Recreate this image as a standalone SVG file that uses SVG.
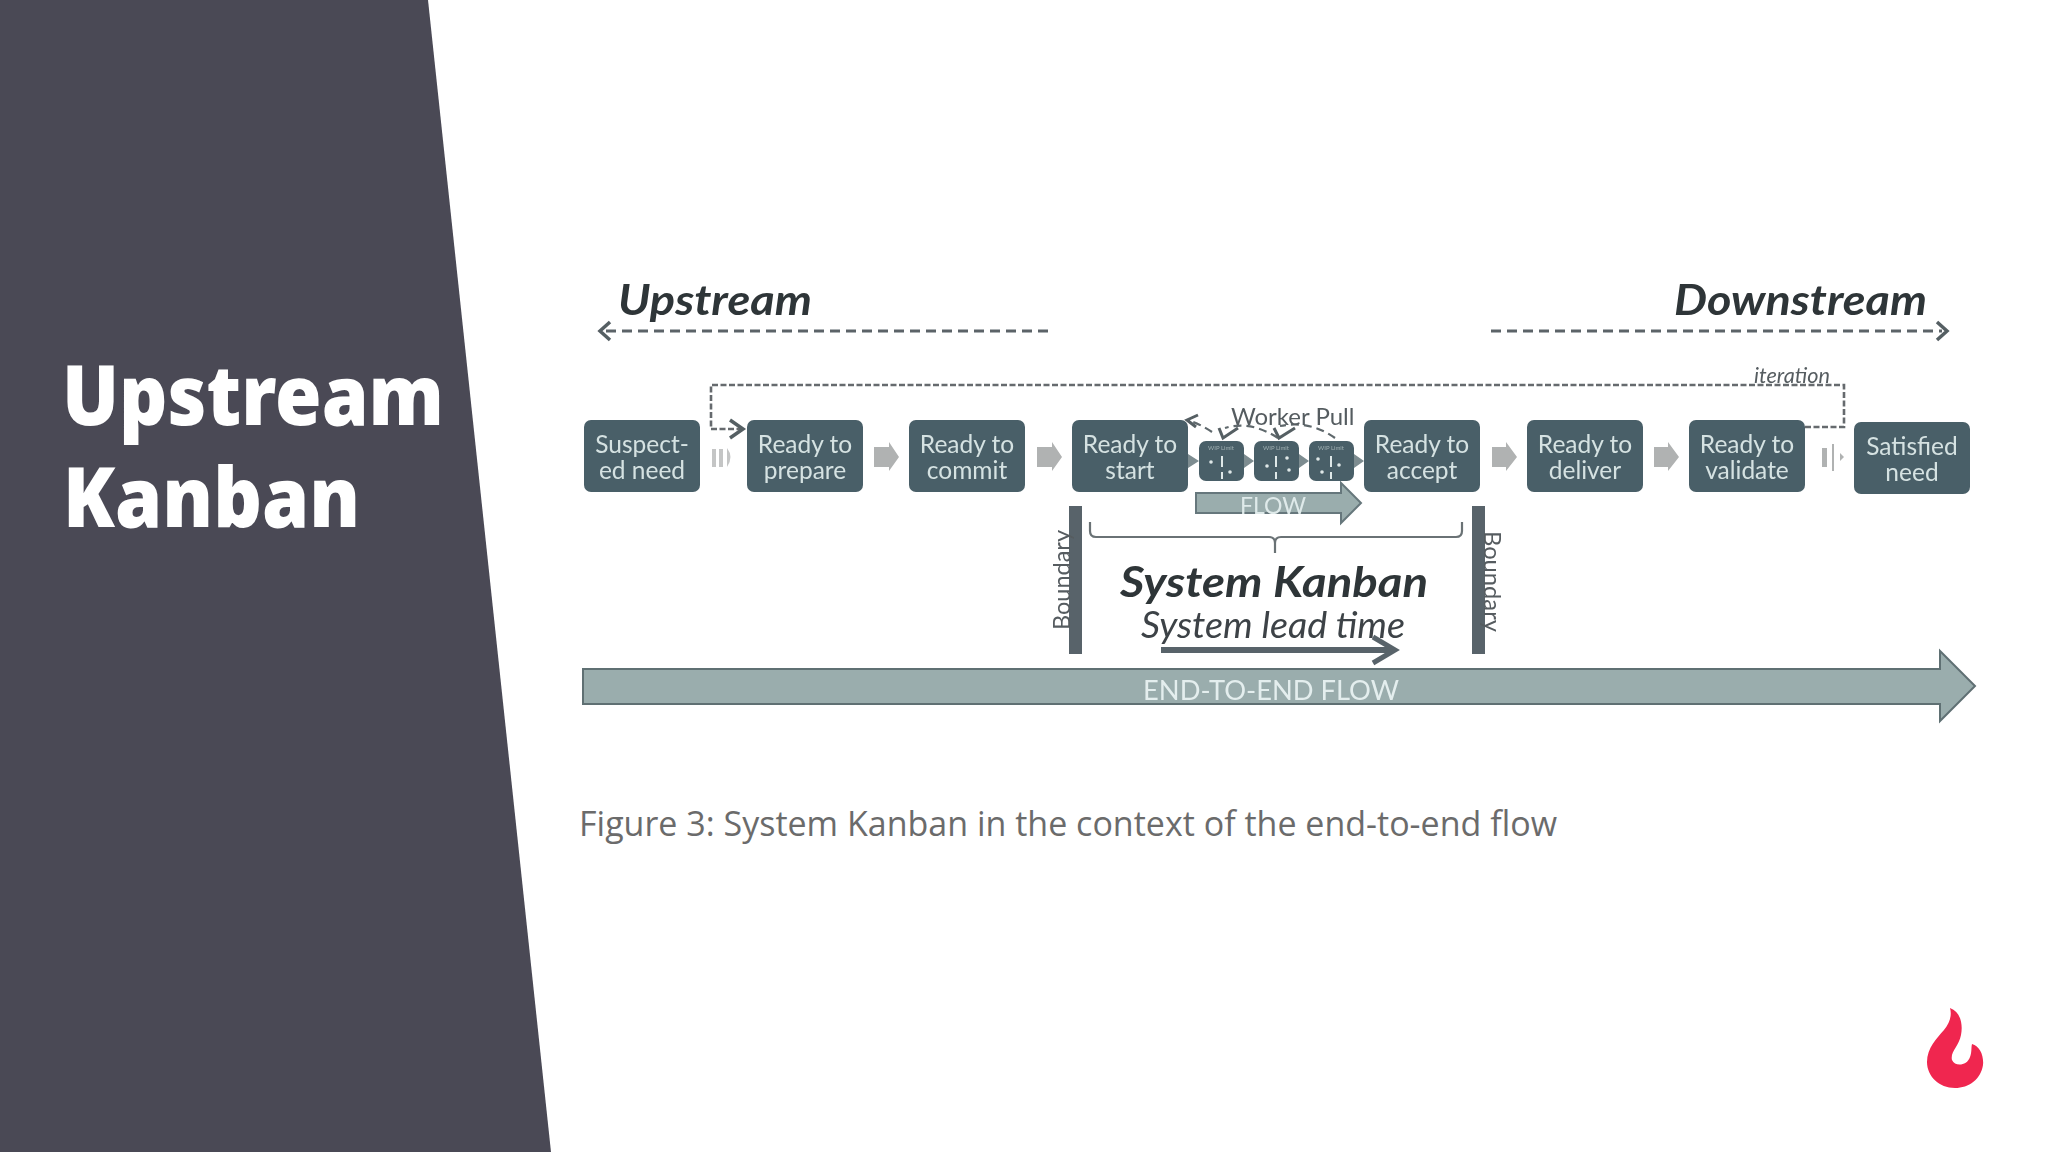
<svg xmlns="http://www.w3.org/2000/svg" width="2048" height="1152" viewBox="0 0 2048 1152">
<style>
.box{fill:#4a5f68}
.bt{font-family:Lato,"Open Sans",sans-serif;font-size:24.5px;fill:#d5e2e2;text-anchor:middle}
.head{font-family:Lato,sans-serif;font-weight:700;font-style:italic;fill:#2f3537}
.dash{fill:none;stroke:#5b6468;stroke-width:3;stroke-dasharray:10 6}
.dash2{fill:none;stroke:#666b6e;stroke-width:2.6;stroke-dasharray:6 2.5}
.chev{fill:none;stroke:#555f63;stroke-width:3.5}
.grey{fill:#b0b2b2}
.wip{fill:#4a5f68}
.wt{font-family:Lato,sans-serif;font-size:6px;fill:#9fb0b3;text-anchor:middle}
.dot{fill:#dfe8e8}
.tri{fill:#7d8c90}
.bar{fill:#59646a}
.bnd{font-family:Lato,sans-serif;font-size:24px;fill:#565c60}
</style>
<defs><filter id="soft" x="-5%" y="-5%" width="110%" height="110%"><feGaussianBlur stdDeviation="0.55"/></filter></defs>
<rect width="2048" height="1152" fill="#ffffff"/>
<polygon id="panel" points="0,0 428,0 551,1152 0,1152" fill="#4a4955"/>
<g id="title" font-family="'Noto Sans',sans-serif" font-weight="900" font-size="84" fill="#ffffff">
<text x="62" y="425" textLength="382" lengthAdjust="spacingAndGlyphs">Upstream</text>
<text x="63" y="527" textLength="297" lengthAdjust="spacingAndGlyphs">Kanban</text>
</g>
<g filter="url(#soft)">
<g id="connectors">
<path class="dash" d="M1048 331H604"/><path class="chev" d="M610 322L600 331L610 340" stroke-width="4.5"/>
<path class="dash" d="M1491 331H1942"/><path class="chev" d="M1937 322L1947 331L1937 340"/>
<path class="dash2" d="M1805 427H1844V385H711V429H740"/><path class="chev" d="M730 420L743 429L730 438"/>
<path fill="none" stroke="#5f686c" stroke-width="2.2" stroke-dasharray="8 5" d="M1335 438Q1310 420 1280 426M1278 438Q1250 420 1225 428M1212 432Q1200 424 1190 421"/>
<path fill="none" stroke="#555f63" stroke-width="3" d="M1198 415L1187 420L1196 427M1219 428L1223 438L1238 428M1274 428L1279 438L1295 428"/>
<g id="block-arrows">
<path class="grey" d="M874 447H889V442L899 457L889 471V467H874Z"/>
<path class="grey" d="M1037 447H1052V442L1062 457L1052 471V467H1037Z"/>
<path class="grey" d="M1492 447H1506V442L1517 457L1506 471V467H1492Z"/>
<path class="grey" d="M1654 447H1668V442L1679 457L1668 471V467H1654Z"/>
<path class="grey" d="M712 449H716V467H712ZM719 449H723V467H719ZM727 448Q734 457 727 467Z" opacity=".75"/>
<path class="grey" d="M1822 448H1827V467H1822ZM1832 444H1834V471H1832ZM1840 453L1844 457L1840 461Z"/>
<path class="tri" d="M1188 454L1199 461L1188 468ZM1244 454L1254 461L1244 468ZM1299 454L1309 461L1299 468ZM1354 454L1364 461L1354 468Z"/>
</g>
</g>
<text id="upstream" class="head" x="618" y="315" font-size="42" textLength="194" lengthAdjust="spacingAndGlyphs">Upstream</text>
<text id="downstream" class="head" x="1674" y="315" font-size="42" textLength="253" lengthAdjust="spacingAndGlyphs">Downstream</text>
<text id="iteration" x="1754" y="383" font-family="Lato,sans-serif" font-style="italic" font-size="20.5" fill="#555c60" textLength="76" lengthAdjust="spacingAndGlyphs">iteration</text>
<g id="node-suspected"><rect class="box" x="584" y="420" width="116" height="72" rx="7"/><text class="bt" x="642" y="453">Suspect-</text><text class="bt" x="642" y="479">ed need</text></g>
<g id="node-prepare"><rect class="box" x="747" y="420" width="116" height="72" rx="7"/><text class="bt" x="805" y="453">Ready to</text><text class="bt" x="805" y="479">prepare</text></g>
<g id="node-commit"><rect class="box" x="909" y="420" width="116" height="72" rx="7"/><text class="bt" x="967" y="453">Ready to</text><text class="bt" x="967" y="479">commit</text></g>
<g id="node-start"><rect class="box" x="1072" y="420" width="116" height="72" rx="7"/><text class="bt" x="1130" y="453">Ready to</text><text class="bt" x="1130" y="479">start</text></g>
<g id="node-accept"><rect class="box" x="1364" y="420" width="116" height="72" rx="7"/><text class="bt" x="1422" y="453">Ready to</text><text class="bt" x="1422" y="479">accept</text></g>
<g id="node-deliver"><rect class="box" x="1527" y="420" width="116" height="72" rx="7"/><text class="bt" x="1585" y="453">Ready to</text><text class="bt" x="1585" y="479">deliver</text></g>
<g id="node-validate"><rect class="box" x="1689" y="420" width="116" height="72" rx="7"/><text class="bt" x="1747" y="453">Ready to</text><text class="bt" x="1747" y="479">validate</text></g>
<g id="node-satisfied"><rect class="box" x="1854" y="422" width="116" height="72" rx="7"/><text class="bt" x="1912" y="455">Satisfied</text><text class="bt" x="1912" y="481">need</text></g>
<g id="node-wip1"><rect class="wip" x="1199" y="441" width="45" height="40" rx="7"/><text class="wt" x="1221" y="450">WIP Limit</text><path class="dot" d="M1221 456h2v11h-2zM1221 472h2v7h-2z"/><circle class="dot" cx="1211" cy="462" r="1.8"/><circle class="dot" cx="1230" cy="472" r="1.8"/></g>
<g id="node-wip2"><rect class="wip" x="1254" y="441" width="45" height="40" rx="7"/><text class="wt" x="1276" y="450">WIP Limit</text><path class="dot" d="M1275 456h2v11h-2zM1275 472h2v7h-2z"/><circle class="dot" cx="1267" cy="466" r="1.8"/><circle class="dot" cx="1287" cy="458" r="1.8"/><circle class="dot" cx="1289" cy="470" r="1.8"/></g>
<g id="node-wip3"><rect class="wip" x="1309" y="441" width="45" height="40" rx="7"/><text class="wt" x="1331" y="450">WIP Limit</text><path class="dot" d="M1330 456h2v11h-2zM1330 472h2v7h-2z"/><circle class="dot" cx="1318" cy="459" r="1.8"/><circle class="dot" cx="1322" cy="472" r="1.8"/><circle class="dot" cx="1339" cy="465" r="1.8"/></g>
<text id="worker-pull" x="1231" y="425" font-family="Lato,sans-serif" font-size="24" fill="#555c60">Worker Pull</text>
<g id="flow"><path d="M1196 493H1341V483L1361 503L1341 523V513H1196Z" fill="#9aadad" stroke="#66777b" stroke-width="2"/><text x="1273" y="514" font-family="Lato,sans-serif" font-size="23" fill="#dfeaea" text-anchor="middle">FLOW</text></g>
<rect class="bar" x="1069" y="506" width="13" height="148"/>
<rect class="bar" x="1472" y="506" width="13" height="148"/>
<text class="bnd" transform="translate(1070 630) rotate(-90)" textLength="100" lengthAdjust="spacingAndGlyphs">Boundary</text>
<text class="bnd" transform="translate(1484 531) rotate(90)" textLength="101" lengthAdjust="spacingAndGlyphs">Boundary</text>
<path id="bracket" d="M1090 522V531Q1090 537 1096 537H1269Q1275 537 1275 543V553M1275 543Q1275 537 1281 537H1456Q1462 537 1462 531V522" fill="none" stroke="#6a7275" stroke-width="2.2"/>
<text id="system-kanban" class="head" x="1120" y="597" font-size="42" textLength="308" lengthAdjust="spacingAndGlyphs">System Kanban</text>
<text id="lead-time" x="1141" y="638" font-family="Lato,sans-serif" font-style="italic" font-size="36" fill="#3c4346" textLength="264" lengthAdjust="spacingAndGlyphs">System lead time</text>
<g id="lead-arrow"><path d="M1161 650H1394" stroke="#59646a" stroke-width="6" fill="none"/><path d="M1373 637L1395 650L1373 663" stroke="#59646a" stroke-width="5" fill="none"/></g>
<g id="end-to-end"><path d="M583 669H1940V651L1975 686L1940 721V704H583Z" fill="#9aadad" stroke="#5f6f73" stroke-width="2"/><text x="1271" y="700" font-family="Lato,sans-serif" font-size="27.3" fill="#e4eeee" text-anchor="middle">END-TO-END FLOW</text></g>
</g>
<text id="caption" x="579" y="836" font-family="'Open Sans',sans-serif" font-size="34" fill="#6b6b6b" textLength="978" lengthAdjust="spacingAndGlyphs">Figure 3: System Kanban in the context of the end-to-end flow</text>
<path id="flame" d="M1950 1008C1961 1012 1963 1025 1961 1035C1959 1046 1950 1052 1952 1060C1955 1067 1967 1066 1970 1057C1972 1052 1971 1048 1972 1044C1980 1046 1984 1056 1983 1065C1981 1079 1969 1088 1955 1088C1939 1088 1927 1076 1927 1062C1927 1048 1937 1038 1944 1030C1950 1023 1952 1015 1950 1008Z" fill="#f0264f"/>
</svg>
